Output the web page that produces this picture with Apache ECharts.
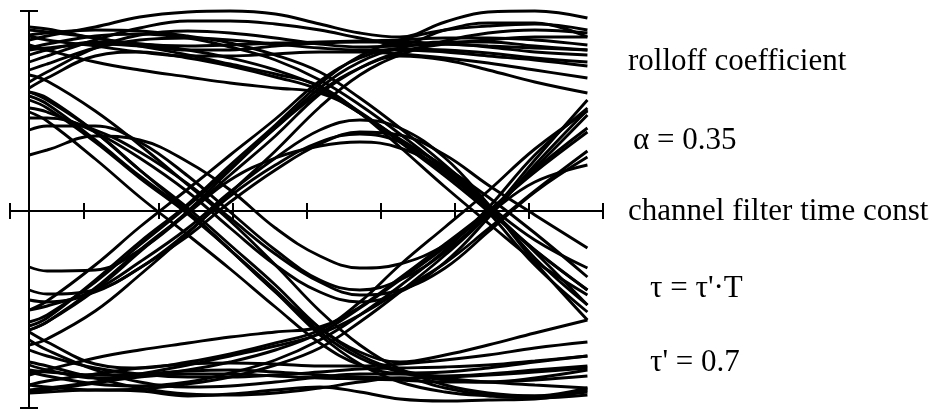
<!DOCTYPE html>
<html>
<head>
<meta charset="utf-8">
<script src="https://cdn.jsdelivr.net/npm/echarts@6/dist/echarts.min.js"></script>
<style>
  html, body { margin: 0; padding: 0; background: #ffffff; }
  #chart { width: 934px; height: 410px; }
</style>
</head>
<body>
<div id="chart"></div>
<script>
// Eye diagram of a raised-cosine signal after an RC channel filter.
// Time is measured in tick spacings; the vertical axis sits at t = 0.26.
const timeRange = [0, 8];
const amplitudeRange = [-0.985, 1];
const timePoints = [0.26, 0.5, 1.15, 1.75, 2.4, 2.97, 3.58, 4.18, 4.72, 5.26, 5.87, 6.45, 7.08, 7.79];

// Traces grouped by the symbol pattern they follow (before / middle / after).
const highHighHigh = [
  [0.855, 0.875, 0.92, 0.97, 0.995, 1.0, 0.985, 0.935, 0.89, 0.87, 0.945, 0.995, 1.0, 0.965],
  [0.745, 0.775, 0.855, 0.915, 0.95, 0.95, 0.935, 0.905, 0.865, 0.835, 0.905, 0.94, 0.94, 0.87],
  [0.92, 0.91, 0.865, 0.835, 0.825, 0.83, 0.84, 0.845, 0.85, 0.855, 0.865, 0.865, 0.855, 0.83],
  [0.805, 0.815, 0.835, 0.825, 0.805, 0.805, 0.825, 0.84, 0.845, 0.845, 0.835, 0.825, 0.815, 0.805],
  [0.645, 0.695, 0.815, 0.88, 0.9, 0.89, 0.865, 0.835, 0.82, 0.825, 0.835, 0.82, 0.795, 0.78],
  [0.875, 0.855, 0.825, 0.795, 0.775, 0.775, 0.785, 0.795, 0.795, 0.785, 0.765, 0.74, 0.705, 0.665],
  [0.705, 0.735, 0.815, 0.855, 0.865, 0.855, 0.835, 0.815, 0.805, 0.805, 0.795, 0.775, 0.755, 0.725]
];
const highHighLow = [
  [0.83, 0.805, 0.745, 0.705, 0.67, 0.64, 0.615, 0.59, 0.49, 0.345, 0.175, 0, -0.195, -0.395],
  [0.905, 0.895, 0.865, 0.825, 0.78, 0.735, 0.685, 0.625, 0.49, 0.32, 0.12, -0.06, -0.25, -0.42],
  [0.615, 0.665, 0.775, 0.795, 0.765, 0.725, 0.67, 0.605, 0.49, 0.36, 0.22, 0.07, -0.11, -0.33],
  [0.78, 0.805, 0.845, 0.835, 0.805, 0.765, 0.705, 0.62, 0.495, 0.355, 0.19, 0.015, -0.205, -0.47],
  [0.88, 0.89, 0.905, 0.9, 0.875, 0.84, 0.78, 0.695, 0.565, 0.415, 0.23, 0.03, -0.255, -0.545],
  [0.815, 0.835, 0.875, 0.885, 0.865, 0.82, 0.755, 0.655, 0.53, 0.385, 0.205, -0.005, -0.27, -0.505]
];
const highLowHigh = [
  [0.28, 0.305, 0.375, 0.355, 0.245, 0.105, -0.085, -0.225, -0.285, -0.265, -0.17, -0.015, 0.145, 0.23],
  [0.405, 0.425, 0.425, 0.345, 0.175, -0.005, -0.195, -0.345, -0.395, -0.345, -0.205, -0.015, 0.205, 0.415],
  [0.515, 0.495, 0.395, 0.265, 0.095, -0.085, -0.27, -0.405, -0.455, -0.405, -0.255, -0.035, 0.23, 0.505],
  [0.465, 0.465, 0.405, 0.295, 0.135, -0.035, -0.215, -0.355, -0.42, -0.395, -0.285, -0.105, 0.095, 0.27]
];
const highLowLow = [
  [0.595, 0.565, 0.395, 0.205, 0.015, -0.17, -0.37, -0.585, -0.72, -0.795, -0.835, -0.855, -0.87, -0.885],
  [0.68, 0.65, 0.5, 0.33, 0.13, -0.05, -0.27, -0.5, -0.67, -0.79, -0.87, -0.91, -0.925, -0.905],
  [0.555, 0.515, 0.345, 0.165, -0.015, -0.195, -0.395, -0.605, -0.735, -0.805, -0.845, -0.855, -0.835, -0.795],
  [0.495, 0.45, 0.26, 0.07, -0.12, -0.29, -0.48, -0.66, -0.77, -0.81, -0.805, -0.785, -0.755, -0.725],
  [0.575, 0.535, 0.355, 0.175, -0.005, -0.195, -0.405, -0.62, -0.765, -0.855, -0.905, -0.925, -0.935, -0.92],
  [0.595, 0.555, 0.395, 0.205, 0, -0.195, -0.405, -0.585, -0.705, -0.755, -0.72, -0.67, -0.61, -0.545]
];
const lowLowLow = [
  [-0.91, -0.905, -0.895, -0.9, -0.925, -0.915, -0.895, -0.88, -0.905, -0.94, -0.95, -0.945, -0.94, -0.895],
  [-0.755, -0.775, -0.835, -0.885, -0.915, -0.92, -0.91, -0.885, -0.855, -0.835, -0.885, -0.92, -0.925, -0.885],
  [-0.905, -0.895, -0.86, -0.83, -0.815, -0.815, -0.825, -0.835, -0.84, -0.845, -0.855, -0.855, -0.845, -0.825],
  [-0.795, -0.805, -0.82, -0.815, -0.8, -0.795, -0.805, -0.82, -0.83, -0.835, -0.83, -0.82, -0.805, -0.785],
  [-0.645, -0.695, -0.795, -0.855, -0.88, -0.875, -0.855, -0.83, -0.815, -0.815, -0.825, -0.815, -0.795, -0.775],
  [-0.87, -0.85, -0.815, -0.785, -0.765, -0.76, -0.765, -0.775, -0.775, -0.765, -0.745, -0.72, -0.685, -0.655],
  [-0.695, -0.725, -0.785, -0.815, -0.83, -0.83, -0.82, -0.805, -0.79, -0.785, -0.78, -0.77, -0.75, -0.725]
];
const lowLowHigh = [
  [-0.82, -0.795, -0.735, -0.695, -0.66, -0.63, -0.605, -0.58, -0.48, -0.335, -0.165, 0, 0.195, 0.395],
  [-0.895, -0.885, -0.855, -0.815, -0.77, -0.725, -0.675, -0.615, -0.52, -0.4, -0.26, -0.09, 0.1, 0.3],
  [-0.605, -0.655, -0.765, -0.785, -0.755, -0.715, -0.66, -0.595, -0.455, -0.27, -0.08, 0.1, 0.31, 0.5],
  [-0.77, -0.795, -0.835, -0.825, -0.795, -0.755, -0.695, -0.61, -0.485, -0.345, -0.18, -0.005, 0.215, 0.48],
  [-0.87, -0.88, -0.895, -0.89, -0.865, -0.83, -0.77, -0.685, -0.555, -0.405, -0.22, -0.02, 0.255, 0.555],
  [-0.805, -0.825, -0.865, -0.875, -0.855, -0.81, -0.745, -0.645, -0.52, -0.375, -0.195, 0.015, 0.28, 0.515]
];
const lowHighLow = [
  [-0.28, -0.3, -0.295, -0.195, -0.01, 0.155, 0.265, 0.325, 0.345, 0.315, 0.205, 0.03, -0.145, -0.285],
  [-0.395, -0.415, -0.395, -0.285, -0.105, 0.075, 0.23, 0.345, 0.385, 0.345, 0.215, 0.015, -0.195, -0.395],
  [-0.495, -0.475, -0.395, -0.255, -0.085, 0.095, 0.265, 0.405, 0.455, 0.415, 0.265, 0.035, -0.235, -0.47],
  [-0.445, -0.455, -0.405, -0.285, -0.125, 0.045, 0.205, 0.335, 0.395, 0.38, 0.28, 0.13, -0.02, -0.185]
];
const lowHighHigh = [
  [-0.595, -0.555, -0.385, -0.195, -0.005, 0.18, 0.375, 0.585, 0.715, 0.795, 0.835, 0.855, 0.87, 0.87],
  [-0.67, -0.64, -0.5, -0.32, -0.11, 0.09, 0.3, 0.52, 0.68, 0.78, 0.85, 0.89, 0.905, 0.89],
  [-0.555, -0.52, -0.355, -0.17, 0.025, 0.215, 0.415, 0.615, 0.745, 0.815, 0.845, 0.845, 0.825, 0.805],
  [-0.495, -0.45, -0.27, -0.08, 0.11, 0.28, 0.46, 0.65, 0.765, 0.81, 0.805, 0.79, 0.765, 0.745],
  [-0.575, -0.535, -0.345, -0.155, 0.035, 0.23, 0.43, 0.635, 0.775, 0.855, 0.905, 0.925, 0.935, 0.905],
  [-0.595, -0.555, -0.395, -0.205, 0, 0.205, 0.415, 0.595, 0.715, 0.775, 0.755, 0.705, 0.645, 0.59]
];

const annotationLines = [
  'rolloff coefficient',
  'α = 0.35',
  'channel filter time const',
  "τ = τ'·T",
  "τ' = 0.7"
];

const allTraces = [].concat(
  highHighHigh, highHighLow, highLowHigh, highLowLow,
  lowLowLow, lowLowHigh, lowHighLow, lowHighHigh
);

const ink = '#000000';
const serifFont = '31px "Liberation Serif", "Times New Roman", serif';

const series = allTraces.map(function (trace) {
  return {
    type: 'line',
    data: trace.map(function (v, i) { return [timePoints[i], v]; }),
    smooth: 0.4,
    showSymbol: false,
    symbol: 'none',
    clip: false,
    silent: true,
    lineStyle: { color: ink, width: 2.9 }
  };
});

function timeAxis(inside) {
  return {
    type: 'value',
    position: 'bottom',
    min: timeRange[0],
    max: timeRange[1],
    interval: 1,
    axisLine: { show: true, onZero: true, lineStyle: { color: ink, width: 2 } },
    axisTick: { show: true, inside: inside, length: 8, lineStyle: { color: ink, width: 2 } },
    axisLabel: { show: false },
    splitLine: { show: false }
  };
}

function amplitudeAxis(inside) {
  return {
    type: 'value',
    position: 'left',
    offset: -19,
    min: amplitudeRange[0],
    max: amplitudeRange[1],
    axisLine: { show: true, onZero: false, lineStyle: { color: ink, width: 2 } },
    axisTick: {
      show: true, inside: inside, length: 9,
      customValues: amplitudeRange.slice(),
      lineStyle: { color: ink, width: 2 }
    },
    axisLabel: { show: false },
    splitLine: { show: false }
  };
}

const lineCentres = [62, 141, 212, 289, 363];
const indents = [628, 633, 628, 650, 650];

const chart = echarts.init(document.getElementById('chart'), null, { renderer: 'canvas' });
chart.setOption({
  animation: false,
  backgroundColor: '#ffffff',
  grid: { left: 10, top: 11, width: 593, height: 397, outerBoundsMode: 'none' },
  xAxis: [timeAxis(false), timeAxis(true)],
  yAxis: [amplitudeAxis(false), amplitudeAxis(true)],
  series: series,
  graphic: annotationLines.map(function (text, i) {
    return {
      type: 'text',
      x: indents[i],
      y: lineCentres[i],
      silent: true,
      style: { text: text, font: serifFont, fill: ink, verticalAlign: 'middle' }
    };
  })
});
</script>
</body>
</html>
